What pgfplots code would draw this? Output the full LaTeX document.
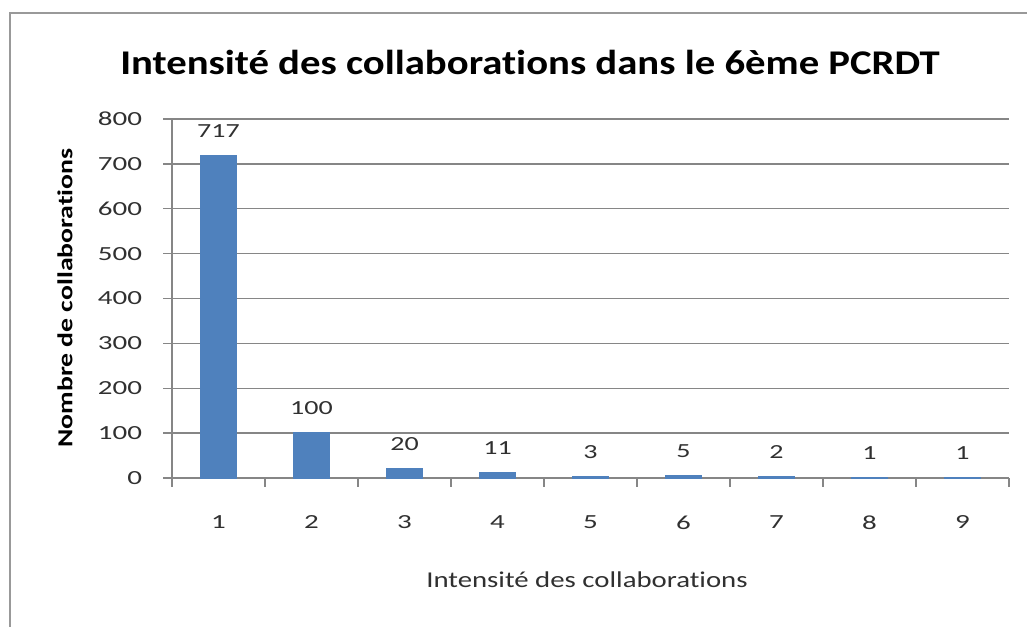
\documentclass[border=0pt]{standalone}
\usepackage{pgfplots}
\pgfplotsset{compat=1.18}
\usepackage{fontspec}
\setmainfont{Carlito}[Ligatures=NoCommon]
\definecolor{barblue}{HTML}{4F81BD}
\definecolor{gridgray}{HTML}{868686}
\definecolor{txt}{HTML}{303030}
\newcommand{\sx}[1]{\scalebox{1.45}[1]{#1}}
\begin{document}
\begin{tikzpicture}
\clip (0,0) rectangle (770.25pt,469.5pt);
\begin{axis}[
  at={(129pt,111pt)}, anchor=south west,
  scale only axis, width=627.75pt, height=269.25pt,
  xmin=0.5, xmax=9.5, ymin=0, ymax=800,
  axis x line*=bottom, axis y line*=left,
  axis line style={gridgray, line width=1.1pt, -},
  xtick={0.5,1.5,2.5,3.5,4.5,5.5,6.5,7.5,8.5,9.5},
  xticklabels={},
  extra x ticks={1,2,3,4,5,6,7,8,9},
  extra x tick labels={\sx{1},\sx{2},\sx{3},\sx{4},\sx{5},\sx{6},\sx{7},\sx{8},\sx{9}},
  extra x tick style={major tick length=0pt},
  ytick={0,100,200,300,400,500,600,700,800},
  yticklabels={\sx{0},\sx{100},\sx{200},\sx{300},\sx{400},\sx{500},\sx{600},\sx{700},\sx{800}},
  ymajorgrids, major grid style={gridgray, line width=1.1pt},
  tick align=outside,
  major tick length=6.5pt,
  tick style={gridgray, line width=1.1pt},
  /pgf/number format/assume math mode=true,
  /pgf/number format/1000 sep={},
  ticklabel style={font=\fontsize{15}{18}\selectfont, text=txt},
  xticklabel style={inner sep=0pt, anchor=north, yshift=-28pt},
  yticklabel style={inner sep=0pt, anchor=east, xshift=-15.75pt},
  ybar, bar width=26pt,
  nodes near coords={\scalebox{1.4}[1]{\pgfmathprintnumber{\pgfplotspointmeta}}},
  every node near coord/.append style={font=\fontsize{15}{18}\selectfont, text=txt, inner sep=0pt, anchor=south, yshift=13pt},
]
\addplot[fill=barblue, draw=barblue, line width=1.5pt] coordinates {
  (1,717) (2,100) (3,20) (4,11) (5,3) (6,5) (7,2) (8,1) (9,1)
};
\end{axis}
\begin{scope}[x=0.75pt, y=-0.75pt, yshift=469.5pt]
  \node[font=\fontsize{26}{30}\selectfont\bfseries, text=black] at (530,62) {\scalebox{1.175}[1]{Intensité des collaborations dans le 6ème PCRDT}};
  \node[font=\fontsize{16}{19}\selectfont\bfseries, text=black, rotate=90] at (65,298) {\scalebox{1.3}[1]{Nombre de collaborations}};
  \node[font=\fontsize{17}{20}\selectfont, text=txt] at (587,580) {\scalebox{1.27}[1]{Intensité des collaborations}};
  \draw[gray!80, line width=1.5pt] (10,13) rectangle (1200,800);
\end{scope}
\end{tikzpicture}
\end{document}
